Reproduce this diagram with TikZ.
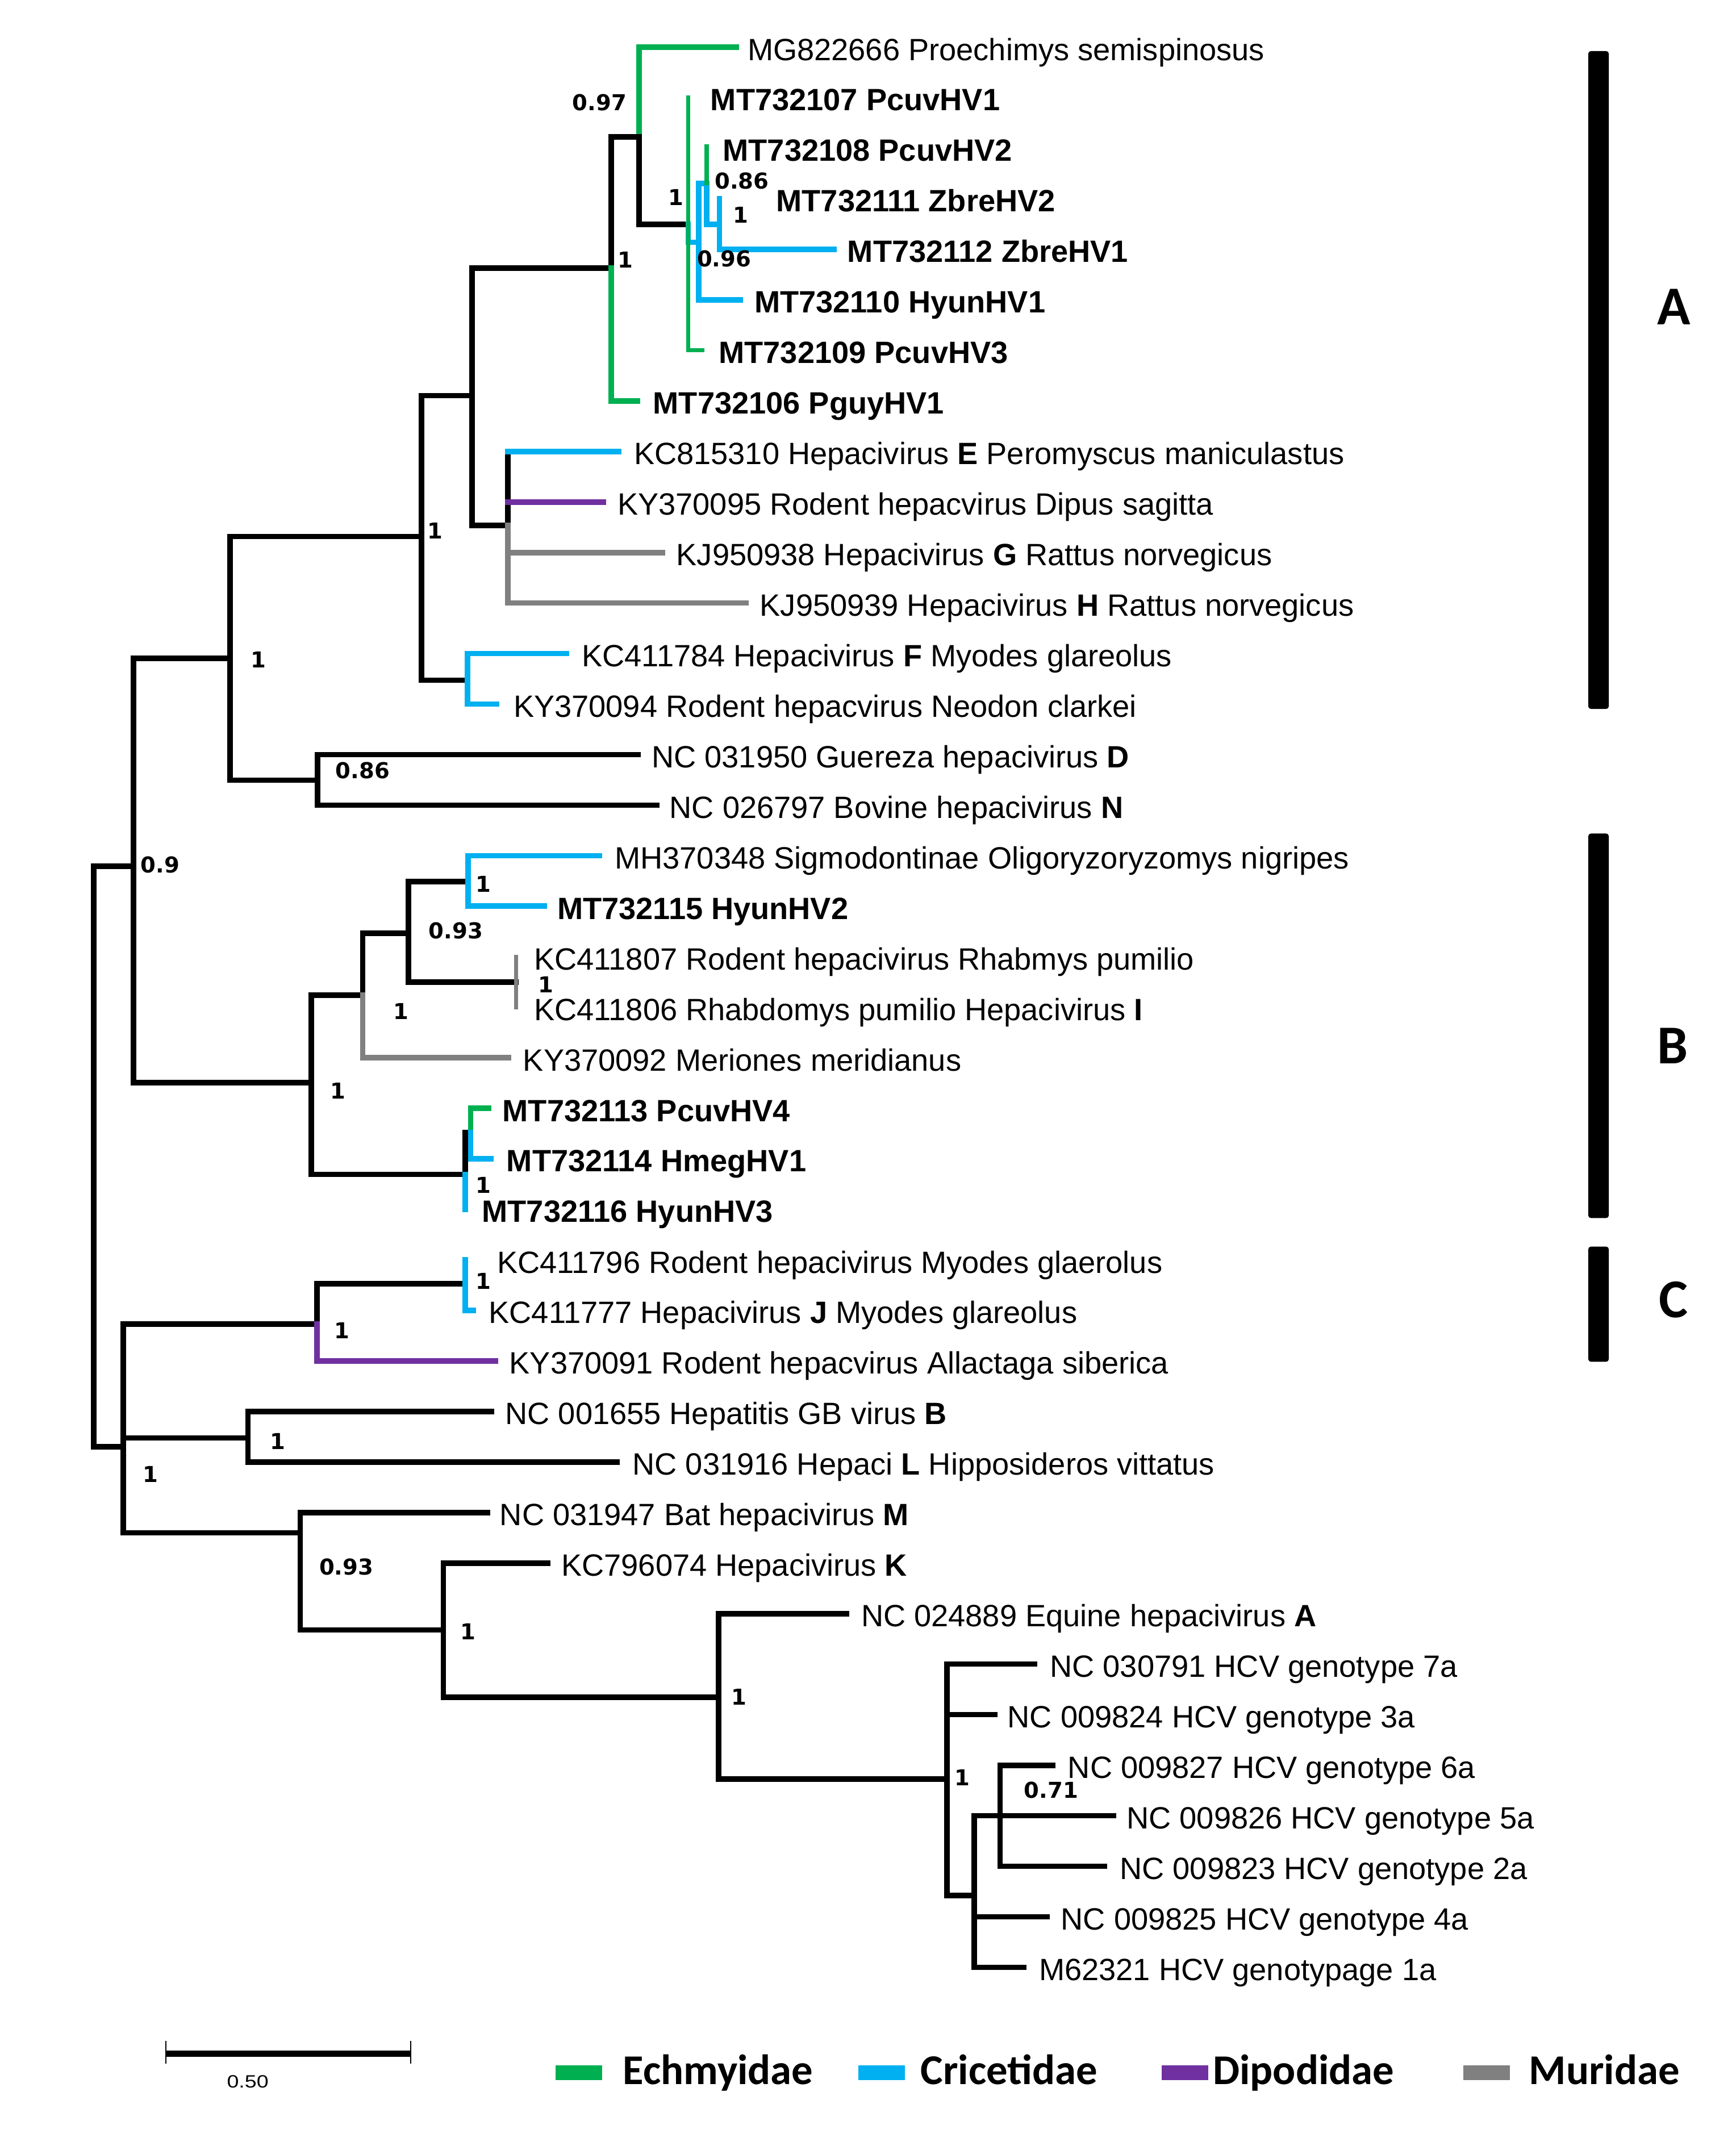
\documentclass[tikz,border=0pt]{standalone}
\usepackage{fontspec}
\setmainfont{Liberation Sans}
\newfontfamily\supfont{DejaVu Sans}
\newfontfamily\legfont{Carlito}
\definecolor{cEch}{HTML}{00B050}
\definecolor{cCri}{HTML}{00B0F0}
\definecolor{cDip}{HTML}{7030A0}
\definecolor{cMur}{HTML}{808080}
\tikzset{
  br/.style={line width=4pt, line join=miter, line cap=rect},
  blk/.style={br, draw=black},
  ech/.style={br, draw=cEch},
  cri/.style={br, draw=cCri},
  dip/.style={br, draw=cDip},
  mur/.style={br, draw=cMur},
  slim/.style={line width=3pt},
  tiplab/.style={anchor=base west, inner sep=0pt, font=\fontsize{22.5}{27}\selectfont},
  suplab/.style={inner sep=0pt, font={\supfont\bfseries\fontsize{16}{19}\selectfont}},
  legtxt/.style={anchor=base west, inner sep=0pt, font={\legfont\bfseries\fontsize{31}{36}\selectfont}},
  cladebar/.style={fill=black, rounded corners=2pt},
  cladelab/.style={anchor=base, inner sep=0pt, font={\legfont\bfseries\fontsize{40}{46}\selectfont}}
}
\begin{document}
\begin{tikzpicture}[x=1pt, y=-1pt]
\fill[white] (0,0) rectangle (1268,1568);
\useasboundingbox (0,0) rectangle (1268,1568);

% internal nodes
\coordinate (root) at (68.5,846);
\coordinate (R1) at (97.5,633);
\coordinate (R2) at (168,481);
\coordinate (R3) at (308,392);
\coordinate (R4) at (345,289);
\coordinate (N1) at (446.6,196);
\coordinate (N2) at (467,100);
\coordinate (N3) at (502.8,164);
\coordinate (B1) at (510.4,177);
\coordinate (B2) at (516.3,134);
\coordinate (B3) at (525.6,164);
\coordinate (R5) at (371,384);
\coordinate (R6) at (341.5,497);
\coordinate (R7) at (232,570);
\coordinate (R8) at (227.5,791);
\coordinate (R9) at (265,727);
\coordinate (R10) at (298.5,682);
\coordinate (R11) at (342,644);
\coordinate (R12) at (377,717.5);
\coordinate (R13) at (340,858);
\coordinate (R14) at (343.8,827.6);
\coordinate (Q1) at (90,1057);
\coordinate (Q2) at (231.7,967.5);
\coordinate (Q3) at (340,938);
\coordinate (Q4) at (181.2,1050.6);
\coordinate (Q5) at (219.3,1120);
\coordinate (Q6) at (324,1191);
\coordinate (Q7) at (525,1240);
\coordinate (Q8) at (691.8,1300);
\coordinate (Q9) at (711.8,1385);
\coordinate (Q10) at (730.7,1326.7);

% tip ends
\coordinate (e1) at (538,34.5);
\coordinate (e2) at (502.8,71.4);
\coordinate (e3) at (516.3,107);
\coordinate (e4) at (525.6,145.3);
\coordinate (e5) at (609.3,182.2);
\coordinate (e6) at (540.8,219.1);
\coordinate (e7) at (513,256.0);
\coordinate (e8) at (465.6,292.9);
\coordinate (e9) at (452,329.9);
\coordinate (e10) at (441,366.8);
\coordinate (e11) at (484,403.7);
\coordinate (e12) at (545,440.6);
\coordinate (e13) at (414,477.5);
\coordinate (e14) at (363,514.5);
\coordinate (e15) at (466,551.4);
\coordinate (e16) at (480,588.3);
\coordinate (e17) at (438,625.2);
\coordinate (e18) at (397.6,662.1);
\coordinate (e19) at (377,699.1);
\coordinate (e20) at (377,736.0);
\coordinate (e21) at (371.6,772.9);
\coordinate (e22) at (356.8,809.8);
\coordinate (e23) at (358.6,846.7);
\coordinate (e24) at (340,883.6);
\coordinate (e25) at (340,920.6);
\coordinate (e26) at (346,957.5);
\coordinate (e27) at (362,994.4);
\coordinate (e28) at (359,1031.3);
\coordinate (e29) at (451,1068.2);
\coordinate (e30) at (356,1105.2);
\coordinate (e31) at (400,1142.1);
\coordinate (e32) at (618.6,1179.0);
\coordinate (e33) at (756,1215.9);
\coordinate (e34) at (726.6,1252.8);
\coordinate (e35) at (769,1289.8);
\coordinate (e36) at (813.4,1326.7);
\coordinate (e37) at (807,1363.6);
\coordinate (e38) at (764.8,1400.5);
\coordinate (e39) at (747.8,1437.4);

% branches
\draw[blk] (root) |- (R1);
\draw[blk] (root) |- (Q1);
\draw[blk] (R1) |- (R2);
\draw[blk] (R1) |- (R8);
\draw[blk] (R2) |- (R3);
\draw[blk] (R2) |- (R7);
\draw[blk] (R3) |- (R4);
\draw[blk] (R3) |- (R6);
\draw[blk] (R4) |- (N1);
\draw[blk] (R4) |- (R5);
\draw[blk] (N1) |- (N2);
\draw[ech] (N1) |- (e8);
\draw[ech] (N2) |- (e1);
\draw[blk] (N2) |- (N3);
\draw[cri] (N3) |- (B1);
\draw[cri] (B1) |- (B2);
\draw[cri] (B1) |- (e6);
\draw[cri] (B2) |- (B3);
\draw[cri] (B3) |- (e4);
\draw[cri] (B3) |- (e5);
\draw[ech,slim] (B2) |- (e3);
\draw[ech,slim] (N3) |- (e2);
\draw[ech,slim] (N3) |- (e7);
\draw[blk] (R5) -- (R5 |- e9);
\draw[cri] (R5 |- e9) -- (e9);
\draw[dip] (R5 |- e10) -- (e10);
\draw[mur] (R5) |- (e11);
\draw[mur] (R5) |- (e12);
\draw[cri] (R6) |- (e13);
\draw[cri] (R6) |- (e14);
\draw[blk] (R7) |- (e15);
\draw[blk] (R7) |- (e16);
\draw[blk] (R8) |- (R9);
\draw[blk] (R8) |- (R13);
\draw[blk] (R9) |- (R10);
\draw[mur] (R9) |- (e21);
\draw[blk] (R10) |- (R11);
\draw[blk] (R10) |- (R12);
\draw[cri] (R11) |- (e17);
\draw[cri] (R11) |- (e18);
\draw[mur,slim] (R12) |- (e19);
\draw[mur,slim] (R12) |- (e20);
\draw[blk] (R13) |- (R14);
\draw[cri] (R13) |- (e24);
\draw[ech] (R14) |- (e22);
\draw[cri] (R14) |- (e23);
\draw[blk] (Q1) |- (Q2);
\draw[blk] (Q1) |- (Q4);
\draw[blk] (Q1) |- (Q5);
\draw[blk] (Q2) |- (Q3);
\draw[dip] (Q2) |- (e27);
\draw[cri] (Q3) |- (e25);
\draw[cri] (Q3) |- (e26);
\draw[blk] (Q4) |- (e28);
\draw[blk] (Q4) |- (e29);
\draw[blk] (Q5) |- (e30);
\draw[blk] (Q5) |- (Q6);
\draw[blk] (Q6) |- (e31);
\draw[blk] (Q6) |- (Q7);
\draw[blk] (Q7) |- (e32);
\draw[blk] (Q7) |- (Q8);
\draw[blk] (Q8) |- (e33);
\draw[blk] (Q8) |- (e34);
\draw[blk] (Q8) |- (Q9);
\draw[blk] (Q9) |- (Q10);
\draw[blk] (Q9) |- (e38);
\draw[blk] (Q9) |- (e39);
\draw[blk] (Q10) |- (e35);
\draw[blk] (Q10) -- (e36);
\draw[blk] (Q10) |- (e37);

% tip labels
\node[tiplab] (t1) at (546,44) {MG822666 Proechimys semispinosus};
\node[tiplab] (t2) at (519,80.9) {\textbf{MT732107 PcuvHV1}};
\node[tiplab] (t3) at (528,117.8) {\textbf{MT732108 PcuvHV2}};
\node[tiplab] (t4) at (567,154.8) {\textbf{MT732111 ZbreHV2}};
\node[tiplab] (t5) at (619,191.7) {\textbf{MT732112 ZbreHV1}};
\node[tiplab] (t6) at (551,228.6) {\textbf{MT732110 HyunHV1}};
\node[tiplab] (t7) at (525,265.5) {\textbf{MT732109 PcuvHV3}};
\node[tiplab] (t8) at (477,302.4) {\textbf{MT732106 PguyHV1}};
\node[tiplab] (t9) at (463,339.4) {KC815310 Hepacivirus \textbf{E} Peromyscus maniculastus};
\node[tiplab] (t10) at (451,376.3) {KY370095 Rodent hepacvirus Dipus sagitta};
\node[tiplab] (t11) at (494,413.2) {KJ950938 Hepacivirus \textbf{G} Rattus norvegicus};
\node[tiplab] (t12) at (555,450.1) {KJ950939 Hepacivirus \textbf{H} Rattus norvegicus};
\node[tiplab] (t13) at (425,487.0) {KC411784 Hepacivirus \textbf{F} Myodes glareolus};
\node[tiplab] (t14) at (375,524.0) {KY370094 Rodent hepacvirus Neodon clarkei};
\node[tiplab] (t15) at (476,560.9) {NC 031950 Guereza hepacivirus \textbf{D}};
\node[tiplab] (t16) at (489,597.8) {NC 026797 Bovine hepacivirus \textbf{N}};
\node[tiplab] (t17) at (449,634.7) {MH370348 Sigmodontinae Oligoryzoryzomys nigripes};
\node[tiplab] (t18) at (407,671.6) {\textbf{MT732115 HyunHV2}};
\node[tiplab] (t19) at (390,708.6) {KC411807 Rodent hepacivirus Rhabmys pumilio};
\node[tiplab] (t20) at (390,745.5) {KC411806 Rhabdomys pumilio Hepacivirus \textbf{I}};
\node[tiplab] (t21) at (382,782.4) {KY370092 Meriones meridianus};
\node[tiplab] (t22) at (367,819.3) {\textbf{MT732113 PcuvHV4}};
\node[tiplab] (t23) at (370,856.2) {\textbf{MT732114 HmegHV1}};
\node[tiplab] (t24) at (352,893.1) {\textbf{MT732116 HyunHV3}};
\node[tiplab] (t25) at (363,930.1) {KC411796 Rodent hepacivirus Myodes glaerolus};
\node[tiplab] (t26) at (357,967.0) {KC411777 Hepacivirus \textbf{J} Myodes glareolus};
\node[tiplab] (t27) at (372,1003.9) {KY370091 Rodent hepacvirus Allactaga siberica};
\node[tiplab] (t28) at (369,1040.8) {NC 001655 Hepatitis GB virus \textbf{B}};
\node[tiplab] (t29) at (462,1077.7) {NC 031916 Hepaci \textbf{L} Hipposideros vittatus};
\node[tiplab] (t30) at (365,1114.7) {NC 031947 Bat hepacivirus \textbf{M}};
\node[tiplab] (t31) at (410,1151.6) {KC796074 Hepacivirus \textbf{K}};
\node[tiplab] (t32) at (629,1188.5) {NC 024889 Equine hepacivirus \textbf{A}};
\node[tiplab] (t33) at (767,1225.4) {NC 030791 HCV genotype 7a};
\node[tiplab] (t34) at (736,1262.3) {NC 009824 HCV genotype 3a};
\node[tiplab] (t35) at (780,1299.3) {NC 009827 HCV genotype 6a};
\node[tiplab] (t36) at (823,1336.2) {NC 009826 HCV genotype 5a};
\node[tiplab] (t37) at (818,1373.1) {NC 009823 HCV genotype 2a};
\node[tiplab] (t38) at (775,1410.0) {NC 009825 HCV genotype 4a};
\node[tiplab] (t39) at (759,1446.9) {M62321 HCV genotypage 1a};

% support values
\node[suplab] (s1) at (438,75) {0.97};
\node[suplab] (s2) at (494,144) {1};
\node[suplab] (s3) at (542,132) {0.86};
\node[suplab] (s4) at (541,157) {1};
\node[suplab] (s5) at (529,189) {0.96};
\node[suplab] (s6) at (457,190) {1};
\node[suplab] (s7) at (318,388) {1};
\node[suplab] (s8) at (189,482) {1};
\node[suplab] (s9) at (265,563) {0.86};
\node[suplab] (s10) at (117,632) {0.9};
\node[suplab] (s11) at (353,646) {1};
\node[suplab] (s12) at (333,680) {0.93};
\node[suplab] (s13) at (399,719.5) {1};
\node[suplab] (s14) at (293,739) {1};
\node[suplab] (s15) at (247,797) {1};
\node[suplab] (s16) at (353,866) {1};
\node[suplab] (s17) at (353,936) {1};
\node[suplab] (s18) at (250,972) {1};
\node[suplab] (s19) at (203,1053) {1};
\node[suplab] (s20) at (110,1077) {1};
\node[suplab] (s21) at (253,1145) {0.93};
\node[suplab] (s22) at (342,1192) {1};
\node[suplab] (s23) at (540,1240) {1};
\node[suplab] (s24) at (703,1299) {1};
\node[suplab] (s25) at (768,1308) {0.71};

% clade bars
\fill[cladebar] (1160.4,37.3) rectangle (1175.4,518);
\fill[cladebar] (1160.4,609) rectangle (1175.4,890);
\fill[cladebar] (1160.4,910.8) rectangle (1175.4,995);
\node[cladelab] (cA) at (1223,237) {A};
\node[cladelab] (cB) at (1222,777) {B};
\node[cladelab] (cC) at (1222.7,962.5) {C};

% scale bar
\coordinate (sb1) at (121,1500.5);
\coordinate (sb2) at (300,1500.5);
\draw[line width=4.5pt] (sb1) -- (sb2);
\draw[line width=0.8pt] ([yshift=-7.5pt]sb1) -- ([yshift=9.5pt]sb1);
\draw[line width=0.8pt] ([yshift=-7.5pt]sb2) -- ([yshift=9.5pt]sb2);
\node[inner sep=0pt, font=\fontsize{13}{15}\selectfont, xscale=1.2] (sbl) at (181,1521) {0.50};

% legend
\fill[cEch] (406,1509) rectangle (440,1520);
\fill[cCri] (627,1509) rectangle (661,1520);
\fill[cDip] (848.6,1509) rectangle (882.6,1520);
\fill[cMur] (1069,1509) rectangle (1103,1520);
\node[legtxt] (l1) at (455,1523) {Echmyidae};
\node[legtxt] (l2) at (672.5,1523) {Cricetidae};
\node[legtxt] (l3) at (886,1523) {Dipodidae};
\node[legtxt] (l4) at (1117,1523) {Muridae};
\end{tikzpicture}
\end{document}
